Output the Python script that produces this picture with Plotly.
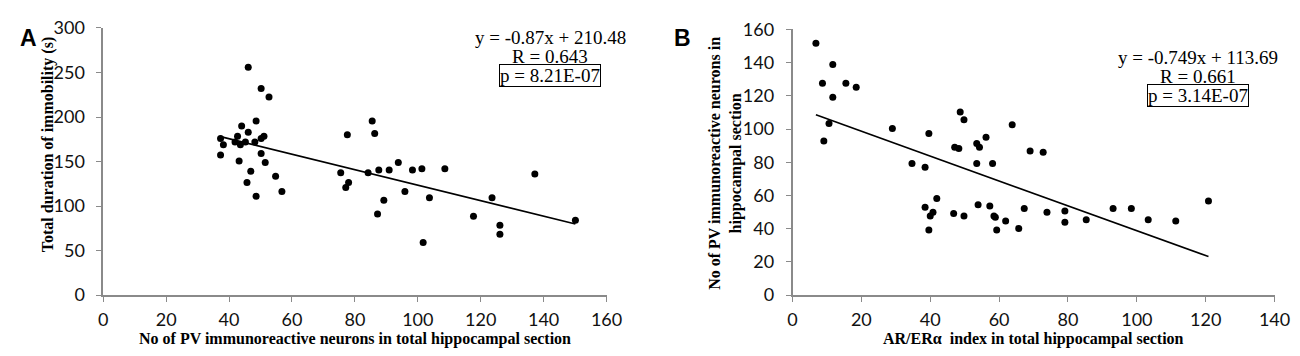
import numpy as np
import plotly.graph_objects as go

W, H = 1300, 356

# ---------------- data ----------------
a_x = [46.1, 50.2, 52.7, 48.6, 44.0, 46.1, 42.7, 37.3, 38.2, 41.9, 43.6, 45.2,
       48.2, 50.2, 51.1, 37.3, 50.2, 43.2, 51.5, 46.9, 54.8, 45.7, 56.8, 48.6,
       77.6, 85.5, 86.3, 75.5, 84.2, 87.6, 90.9, 78.0, 77.1, 89.2, 87.2, 93.8,
       98.3, 101.3, 108.6, 95.9, 103.7, 101.7, 117.7, 123.6, 126.1, 126.1, 137.2, 150.1]
a_y = [256.0, 232.0, 222.5, 195.5, 190.0, 183.0, 178.5, 176.0, 169.0, 172.0, 169.0, 172.0,
       172.0, 176.0, 178.5, 157.5, 159.0, 150.5, 149.0, 139.0, 133.5, 126.5, 116.5, 111.0,
       180.0, 195.5, 181.5, 137.5, 137.5, 140.5, 140.5, 126.5, 121.0, 106.5, 91.0, 149.0,
       140.5, 142.0, 142.0, 116.5, 109.5, 59.0, 88.5, 109.5, 78.5, 68.5, 136.0, 84.0]

b_x = [6.8, 8.7, 11.7, 11.7, 15.5, 18.5, 10.6, 9.1, 29.0, 34.7, 38.5, 39.6,
       38.5, 41.9, 40.8, 40.0, 39.6, 46.8, 49.8, 48.7, 49.8, 47.1, 48.3, 53.5,
       54.3, 56.2, 53.5, 58.1, 53.9, 57.3, 58.5, 58.9, 59.3, 61.9, 63.8, 65.7,
       67.3, 69.0, 72.8, 73.9, 79.1, 79.1, 85.3, 93.1, 98.4, 103.3, 111.3, 120.8]
b_y = [151.6, 127.5, 138.8, 119.2, 127.5, 125.2, 103.4, 92.8, 100.3, 79.3, 77.0, 97.3,
       52.9, 58.2, 49.9, 47.6, 39.3, 49.2, 47.6, 110.2, 105.6, 89.0, 88.3, 91.3,
       89.0, 95.1, 79.3, 79.3, 54.4, 53.7, 47.6, 46.9, 39.3, 44.6, 102.6, 40.1,
       52.1, 86.8, 86.0, 49.9, 50.6, 43.9, 45.4, 52.1, 52.1, 45.4, 44.6, 56.7]

a_slope, a_intercept = -0.87, 210.48
b_slope, b_intercept = -0.749, 113.69

a_text = ["y = -0.87x + 210.48", "R = 0.643", "p = 8.21E-07"]
b_text = ["y = -0.749x + 113.69", "R = 0.661", "p = 3.14E-07"]

a_xlabel = "No of PV immunoreactive neurons in total hippocampal section"
a_ylabel = "Total duration of immobility (s)"
b_xlabel = "AR/ERα  index in total hippocampal section"
b_ylabel = "No of PV immunoreactive neurons in<br>hippocampal section"

# ---------------- figure ----------------
def px(x):
    return x / W

def py(y):
    return 1 - y / H

fig = go.Figure()

fig.add_trace(go.Scatter(x=a_x, y=a_y, mode="markers",
                         marker=dict(color="black", size=7),
                         xaxis="x", yaxis="y", showlegend=False))
ax_line = np.array([min(a_x), max(a_x)])
fig.add_trace(go.Scatter(x=ax_line, y=a_slope * ax_line + a_intercept, mode="lines",
                         line=dict(color="black", width=1.6),
                         xaxis="x", yaxis="y", showlegend=False))

fig.add_trace(go.Scatter(x=b_x, y=b_y, mode="markers",
                         marker=dict(color="black", size=7),
                         xaxis="x2", yaxis="y2", showlegend=False))
bx_line = np.array([min(b_x), max(b_x)])
fig.add_trace(go.Scatter(x=bx_line, y=b_slope * bx_line + b_intercept, mode="lines",
                         line=dict(color="black", width=1.6),
                         xaxis="x2", yaxis="y2", showlegend=False))

tickfont = dict(family="Lato", size=18, color="#111111")
axis_common = dict(showline=True, linecolor="#8a8a8a", linewidth=1.5,
                   ticks="outside", ticklen=5, tickcolor="#8a8a8a", tickwidth=1.2,
                   showgrid=False, zeroline=False, tickfont=tickfont,
                   ticklabeloverflow="allow")

y_bottom = py(293.3)

fig.update_layout(
    width=W, height=H,
    margin=dict(l=0, r=0, t=0, b=0),
    paper_bgcolor="white", plot_bgcolor="white",
    xaxis=dict(domain=[px(91.7), px(603.3)], range=[0, 160], dtick=20,
               anchor="y", ticklabelstandoff=2, **axis_common),
    yaxis=dict(domain=[y_bottom, py(8.5)], range=[0, 300], dtick=50,
               anchor="x", ticklabelstandoff=8, **axis_common),
    xaxis2=dict(domain=[px(792.3), px(1282.3)], range=[0, 140], dtick=20,
                anchor="y2", ticklabelstandoff=2, **axis_common),
    yaxis2=dict(domain=[y_bottom, py(10)], range=[0, 160], dtick=20,
                anchor="x2", ticklabelstandoff=8, **axis_common),
)

serif = "Liberation Serif"
ann = []

def A(**kw):
    kw.setdefault("xref", "paper")
    kw.setdefault("yref", "paper")
    kw.setdefault("showarrow", False)
    ann.append(kw)

# panel letters
A(x=px(5), y=py(3), text="<b>A</b>", xanchor="left", yanchor="top",
  font=dict(family="Liberation Sans", size=23, color="black"))
A(x=px(670), y=py(3), text="<b>B</b>", xanchor="left", yanchor="top",
  font=dict(family="Liberation Sans", size=23, color="black"))
# axis titles
A(x=px(347.5), y=py(340), text="<b>" + a_xlabel + "</b>",
  xanchor="center", yanchor="middle", font=dict(family=serif, size=16, color="black"))
A(x=px(1037), y=py(340), text="<b>" + b_xlabel + "</b>",
  xanchor="center", yanchor="middle", font=dict(family=serif, size=16, color="black"))
A(x=px(35), y=py(133), text="<b>" + a_ylabel + "</b>", textangle=-90,
  xanchor="center", yanchor="middle", font=dict(family=serif, size=16, color="black"))
A(x=px(724), y=py(153), text="<b>" + b_ylabel + "</b>", textangle=-90,
  xanchor="center", yanchor="middle", font=dict(family=serif, size=16, color="black"))

# regression text
def add_stats(lines, cx, y0):
    for i, t in enumerate(lines):
        kw = dict(x=px(cx), y=py(y0 + 20 * i), text=t, xanchor="center",
                  yanchor="middle", font=dict(family=serif, size=19, color="black"))
        if i == 2:
            kw.update(bordercolor="black", borderwidth=1, borderpad=0)
        A(**kw)

add_stats(a_text, 546, 19)
add_stats(b_text, 1204, 40)

fig.update_layout(annotations=ann)
fig.write_html("out.html")
